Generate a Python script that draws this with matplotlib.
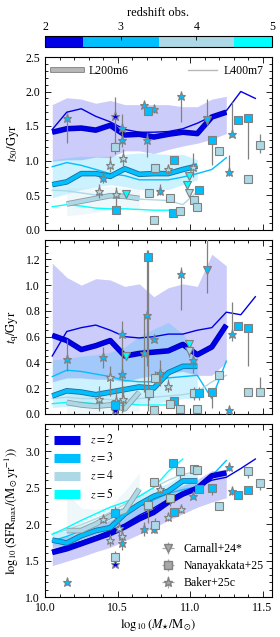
import numpy as np
import matplotlib
matplotlib.use('Agg')
import matplotlib.pyplot as plt
from matplotlib import patheffects as pe
from matplotlib.colors import ListedColormap, BoundaryNorm
from matplotlib.cm import ScalarMappable
from matplotlib.lines import Line2D
from matplotlib.ticker import MultipleLocator

plt.rcParams['font.family'] = ['Liberation Serif', 'DejaVu Serif']
plt.rcParams['mathtext.fontset'] = 'stix'
plt.rcParams['font.size'] = 8.5

# ---------------- data ----------------
redshifts = [2, 3, 4, 5]
z_colors = ['#0000e6', '#00bfff', '#add8e6', '#00ffff']
z_outline = ['#0000b8', '#1a6a9a', '#8c9aa3', '#40a0a0']
cbar_bounds = [2, 2.5, 3.5, 4.5, 5]

m_l200 = [10.05, 10.15, 10.25, 10.35, 10.45, 10.55, 10.65, 10.75, 10.85, 10.95, 11.05, 11.15, 11.25]
m_l400 = [10.05, 10.15, 10.25, 10.35, 10.45, 10.55, 10.65, 10.75, 10.85, 10.95, 11.05, 11.15, 11.25, 11.35, 11.45]

# --- t50 panel ---
t50_l200_z2 = [1.41, 1.46, 1.47, 1.44, 1.51, 1.37, 1.38, 1.34, 1.38, 1.41, 1.39, 1.63, 1.70]
t50_l200_z3 = [0.65, 0.69, 0.81, 0.81, 0.77, 0.88, 0.80, 0.81, 0.81, 0.87, 0.92]
t50_l200_z4 = [0.37, 0.41, 0.45, 0.49, 0.48, 0.45]
t50_l400_z2 = [1.45, 1.70, 1.75, 1.64, 1.56, 1.45, 1.41, 1.41, 1.42, 1.46, 1.54, 1.64, 1.72, 2.00, 1.90]
t50_l400_z3 = [0.91, 0.97, 0.93, 0.87, 0.81, 0.78, 0.72, 0.72, 0.72, 0.76, 0.81, 0.87, 1.04]
t50_l400_z4 = [0.57, 0.56, 0.53, 0.50, 0.48, 0.46, 0.44, 0.43, 0.42, 0.36, 0.55]
t50_l400_z5 = [0.33, 0.36, 0.34, 0.31, 0.30, 0.30, 0.29, 0.28, 0.28]
t50_z2_lo = [0.99, 1.01, 1.01, 1.05, 1.04, 1.14, 1.14, 1.10, 1.16, 1.21, 1.25, 1.31, 1.39]
t50_z2_hi = [1.81, 1.91, 1.89, 1.83, 1.87, 1.81, 1.81, 1.81, 1.81, 1.78, 1.78, 1.89, 1.93]
t50_z3_lo = [0.46, 0.52, 0.58, 0.62, 0.65, 0.62, 0.58, 0.58, 0.58, 0.65, 0.72]
t50_z3_hi = [1.01, 1.04, 1.06, 1.06, 1.06, 1.09, 1.11, 1.10, 1.09, 1.09, 1.01]
t50_z4_lo = [0.20, 0.22, 0.25, 0.28, 0.30, 0.30]
t50_z4_hi = [0.60, 0.60, 0.62, 0.62, 0.60, 0.58]

# --- tq panel ---
tq_l200_z2 = [0.61, 0.57, 0.50, 0.53, 0.57, 0.45, 0.47, 0.48, 0.49, 0.54, 0.46, 0.52, 0.69]
tq_l200_z3 = [0.14, 0.18, 0.17, 0.15, 0.17, 0.19, 0.21, 0.20, 0.32, 0.37, 0.37]
tq_l200_z4 = [0.09, 0.07, 0.06, 0.07, 0.04, 0.17]
tq_l400_z2 = [0.45, 0.64, 0.67, 0.69, 0.65, 0.60, 0.59, 0.60, 0.62, 0.62, 0.65, 0.67, 0.79, 0.77, 0.91]
tq_l400_z3 = [0.29, 0.34, 0.33, 0.31, 0.29, 0.26, 0.25, 0.25, 0.28, 0.29, 0.30, 0.12, 0.41]
tq_l400_z4 = [0.12, 0.13, 0.12, 0.12, 0.11, 0.11, 0.12, 0.13, 0.14, 0.15, 0.17, 0.25, 0.30]
tq_l400_z5 = [0.08, 0.09, 0.09, 0.08, 0.08, 0.08, 0.07, 0.07, 0.07]
tq_z2_lo = [0.25, 0.28, 0.28, 0.27, 0.27, 0.25, 0.28, 0.30, 0.32, 0.33, 0.30, 0.30, 0.40]
tq_z2_hi = [1.17, 1.06, 1.00, 1.05, 1.04, 0.99, 1.01, 0.91, 0.98, 1.01, 0.99, 1.24, 1.15]
tq_z3_lo = [0.05, 0.06, 0.06, 0.06, 0.06, 0.07, 0.08, 0.08, 0.10, 0.12, 0.12]
tq_z3_hi = [0.42, 0.43, 0.45, 0.46, 0.48, 0.52, 0.60, 0.66, 0.71, 0.62, 0.47]
tq_z4_lo = [0.00, 0.00, 0.00, 0.01, 0.01, 0.02]
tq_z4_hi = [0.18, 0.18, 0.17, 0.17, 0.18, 0.25]

# --- SFRmax panel ---
sfr_l200_z2 = [1.61, 1.66, 1.73, 1.80, 1.87, 1.96, 2.07, 2.16, 2.30, 2.41, 2.49, 2.66, 2.70]
sfr_l200_z3 = [1.78, 1.74, 1.84, 1.91, 1.95, 2.14, 2.27, 2.38, 2.45, 2.59, 2.59]
sfr_l200_z4 = [1.91, 1.91, 2.00, 2.11, 2.18, 2.48]
sfr_l400_z2 = [1.64, 1.70, 1.76, 1.83, 1.91, 2.00, 2.12, 2.22, 2.34, 2.44, 2.50, 2.60, 2.64, 2.76, 2.89]
sfr_l400_z3 = [1.77, 1.83, 1.91, 1.99, 2.08, 2.16, 2.25, 2.33, 2.42, 2.47, 2.51, 2.66, 2.87]
sfr_l400_z4 = [1.86, 1.92, 1.99, 2.07, 2.16, 2.27, 2.38, 2.50, 2.60, 2.68, 2.72]
sfr_l400_z5 = [1.86, 1.95, 2.05, 2.14, 2.23, 2.30, 2.38, 2.50, 2.72, 2.89]
sfr_z2_lo = [1.43, 1.49, 1.55, 1.62, 1.68, 1.77, 1.86, 1.95, 2.05, 2.14, 2.23, 2.30, 2.36]
sfr_z2_hi = [1.77, 1.83, 1.89, 1.97, 2.05, 2.14, 2.23, 2.34, 2.45, 2.53, 2.61, 2.73, 2.75]
sfr_z3_lo = [1.70, 1.70, 1.76, 1.83, 1.88, 2.00, 2.12, 2.22, 2.32, 2.40, 2.45]
sfr_z3_hi = [1.90, 1.90, 1.98, 2.05, 2.12, 2.26, 2.38, 2.48, 2.56, 2.68, 2.70]
sfr_z4_lo = [1.75, 1.85, 1.90, 1.98, 2.05, 2.20]
sfr_z4_hi = [2.42, 2.22, 2.20, 2.25, 2.45, 2.70]

# --- observations: mass, redshift, value, err_lo, err_hi ---
baker_t50_m = [10.15, 10.48, 10.53, 10.53, 10.54, 10.45, 10.40, 10.37, 10.49, 10.68, 10.75, 10.70, 10.85, 10.79, 10.94, 11.02, 11.29, 11.27]
baker_t50_z = [3, 2, 3, 3, 4, 4, 3, 4, 4, 3, 3, 3, 4, 3, 3, 4, 3, 3]
baker_t50_v = [1.62, 1.65, 1.47, 1.30, 1.04, 0.94, 0.75, 0.56, 0.52, 1.80, 1.74, 1.30, 0.88, 0.56, 1.94, 0.91, 1.39, 0.83]
baker_t50_lo = [0.36, 0.43, 0.20, 0.10, 0.15, 0.10, 0.08, 0.10, 0.25, 0.05, 0.05, 0.25, 0.08, 0.06, 0.38, 0.15, 0.05, 0.05]
baker_t50_hi = [0.03, 0.27, 0.20, 0.10, 0.12, 0.12, 0.08, 0.10, 0.10, 0.05, 0.05, 0.10, 0.06, 0.10, 0.03, 0.20, 0.46, 0.25]

nana_t50_m = [10.71, 10.48, 10.89, 10.76, 10.72, 10.86, 10.49, 10.75, 10.88, 10.93, 11.03, 11.05, 11.06, 11.15, 11.20, 11.33, 11.40, 11.48, 11.40]
nana_t50_z = [3, 4, 3, 4, 4, 4, 3, 4, 3, 4, 4, 4, 3, 3, 4, 3, 3, 4, 4]
nana_t50_v = [1.72, 1.19, 1.01, 0.89, 0.53, 0.46, 0.28, 0.14, 0.24, 0.27, 0.43, 0.33, 0.57, 1.29, 1.14, 1.58, 1.62, 1.23, 0.73]
nana_t50_lo = [0.03, 0.10, 0.03, 0.05, 0.03, 0.03, 0.03, 0.03, 0.03, 0.03, 0.03, 0.03, 0.03, 0.35, 0.03, 0.03, 0.60, 0.12, 0.03]
nana_t50_hi = [0.03, 0.10, 0.03, 0.05, 0.03, 0.03, 0.03, 0.03, 0.03, 0.03, 0.03, 0.03, 0.03, 0.03, 0.03, 0.03, 0.03, 0.15, 0.03]

carn_t50_m = [10.56, 10.99, 10.98, 10.99, 11.12]
carn_t50_z = [5, 5, 5, 4, 3]
carn_t50_v = [0.51, 0.77, 0.64, 0.53, 1.59]
carn_t50_lo = [0.03, 0.03, 0.03, 0.03, 0.08]
carn_t50_hi = [0.03, 0.03, 0.03, 0.03, 0.30]

baker_tq_m = [10.15, 10.40, 10.53, 10.53, 10.54, 10.45, 10.37, 10.49, 10.68, 10.70, 10.75, 10.79, 10.85, 10.94, 11.02, 11.29, 11.27, 10.48]
baker_tq_z = [3, 3, 3, 3, 4, 4, 4, 4, 3, 3, 3, 3, 4, 3, 3, 3, 3, 2]
baker_tq_v = [0.43, 0.44, 0.62, 0.31, 0.12, 0.29, 0.12, 0.10, 0.47, 0.77, 0.58, 0.32, 0.22, 1.09, 0.42, 0.62, 0.03, 0.03]
baker_tq_lo = [0.10, 0.08, 0.30, 0.30, 0.10, 0.15, 0.10, 0.10, 0.30, 0.40, 0.02, 0.10, 0.05, 0.28, 0.10, 0.05, 0.02, 0.02]
baker_tq_hi = [0.15, 0.08, 0.10, 0.20, 0.10, 0.08, 0.10, 0.10, 0.30, 0.50, 0.02, 0.10, 0.05, 0.05, 0.10, 0.25, 0.02, 0.02]

nana_tq_m = [10.71, 10.76, 10.72, 10.89, 10.86, 11.03, 11.06, 11.15, 11.20, 11.33, 11.40, 11.40, 11.48, 10.48, 10.75, 10.93, 11.05]
nana_tq_z = [3, 4, 4, 3, 4, 4, 3, 3, 4, 3, 3, 4, 4, 3, 4, 4, 4]
nana_tq_v = [1.22, 0.28, 0.16, 0.10, 0.08, 0.16, 0.16, 0.17, 0.30, 0.68, 0.67, 0.17, 0.17, 0.07, 0.03, 0.04, 0.04]
nana_tq_lo = [1.20, 0.05, 0.05, 0.03, 0.03, 0.05, 0.05, 0.12, 0.03, 0.03, 0.30, 0.03, 0.03, 0.03, 0.03, 0.03, 0.03]
nana_tq_hi = [0.05, 0.05, 0.05, 0.03, 0.03, 0.05, 0.05, 0.03, 0.03, 0.03, 0.03, 0.03, 0.12, 0.03, 0.03, 0.03, 0.03]

carn_tq_m = [10.56, 10.99, 10.99, 11.12]
carn_tq_z = [5, 5, 4, 3]
carn_tq_v = [0.45, 0.54, 0.49, 1.12]
carn_tq_lo = [0.03, 0.10, 0.03, 0.18]
carn_tq_hi = [0.03, 0.03, 0.03, 0.30]

baker_sfr_m = [10.15, 10.48, 10.40, 10.45, 10.53, 10.53, 10.51, 10.68, 10.75, 10.70, 10.79, 10.85, 10.94, 11.02, 11.27, 11.29]
baker_sfr_z = [3, 2, 4, 4, 4, 3, 4, 3, 3, 4, 4, 4, 4, 3, 3, 3]
baker_sfr_v = [1.20, 1.45, 2.07, 1.78, 1.84, 1.74, 1.95, 1.93, 1.93, 2.25, 2.48, 2.09, 2.20, 2.39, 2.78, 2.45]
baker_sfr_lo = [0.03, 0.03, 0.05, 0.08, 0.08, 0.10, 0.15, 0.10, 0.05, 0.08, 0.05, 0.05, 0.05, 0.05, 0.05, 0.05]
baker_sfr_hi = [0.03, 0.03, 0.05, 0.08, 0.08, 0.10, 0.10, 0.10, 0.05, 0.08, 0.05, 0.05, 0.05, 0.05, 0.05, 0.05]

nana_sfr_m = [10.48, 10.48, 10.71, 10.76, 10.75, 10.86, 10.89, 10.88, 10.93, 11.03, 11.05, 11.06, 11.15, 11.20, 11.33, 11.40, 11.40, 11.48]
nana_sfr_z = [4, 3, 4, 4, 4, 4, 3, 3, 4, 4, 4, 3, 3, 4, 3, 3, 4, 4]
nana_sfr_v = [1.55, 2.15, 2.26, 1.98, 2.58, 2.35, 2.16, 2.84, 2.72, 2.76, 2.74, 2.48, 2.50, 2.24, 2.40, 2.46, 2.73, 2.56]
nana_sfr_lo = [0.08, 0.12, 0.25, 0.10, 0.05, 0.10, 0.05, 0.03, 0.10, 0.05, 0.05, 0.05, 0.10, 0.03, 0.03, 0.03, 0.10, 0.10]
nana_sfr_hi = [0.08, 0.10, 0.10, 0.10, 0.05, 0.08, 0.05, 0.03, 0.05, 0.05, 0.05, 0.05, 0.03, 0.03, 0.03, 0.03, 0.05, 0.05]

# ---------------- figure ----------------
fig = plt.figure(figsize=(2.80, 6.37), dpi=100)
L, W = 45 / 280, 227 / 280
def fy(top, bot):
    return [L, 1 - bot / 637, W, (bot - top) / 637]

ax1 = fig.add_axes(fy(57, 229.5))
ax2 = fig.add_axes(fy(240, 414))
ax3 = fig.add_axes(fy(424, 597))
cax = fig.add_axes(fy(36, 47))

cmap = ListedColormap(z_colors)
norm = BoundaryNorm(cbar_bounds, cmap.N)
cb = fig.colorbar(ScalarMappable(norm=norm, cmap=cmap), cax=cax, orientation='horizontal',
                  spacing='proportional', ticks=redshifts)
cax.xaxis.set_ticks_position('top')
cax.xaxis.set_label_position('top')
cax.tick_params(direction='in', length=3, width=0.6, labelsize=8.5, pad=2)
cb.set_label('redshift obs.', fontsize=9, labelpad=4)
cb.outline.set_linewidth(0.8)
cax.minorticks_off()

def zcol(z):
    return z_colors[redshifts.index(z)]

def draw_sims(ax, thick, thin, shades):
    for (lo, hi, z) in shades:
        n = len(lo)
        ms = m_l200[:n] if z != 4 else m_l200[1:1 + n]
        ax.fill_between(ms, lo, hi, color=zcol(z), alpha=0.2, lw=0, zorder=1)
    for (vals, z) in thin:
        ax.plot(m_l400[:len(vals)], vals, color=zcol(z), lw=1.0, zorder=2)
    for (vals, z) in thick:
        ms = m_l200[:len(vals)] if z != 4 else m_l200[1:1 + len(vals)]
        i = redshifts.index(z)
        ax.plot(ms, vals, color=zcol(z), lw=2.8, zorder=3, solid_capstyle='butt',
                path_effects=[pe.Stroke(linewidth=4.0, foreground=z_outline[i]), pe.Normal()])

def draw_obs(ax, m, z, v, lo, hi, marker, ms):
    for mi, zi, vi, l, h in zip(m, z, v, lo, hi):
        ax.errorbar(mi, vi, yerr=[[l], [h]], fmt='none', ecolor='gray', elinewidth=0.9, zorder=4)
        ax.plot(mi, vi, marker=marker, ms=ms, mfc=zcol(zi), mec='gray', mew=0.8, ls='none', zorder=5)

draw_sims(ax1,
          [(t50_l200_z2, 2), (t50_l200_z3, 3), (t50_l200_z4, 4)],
          [(t50_l400_z2, 2), (t50_l400_z3, 3), (t50_l400_z4, 4), (t50_l400_z5, 5)],
          [(t50_z2_lo, t50_z2_hi, 2), (t50_z3_lo, t50_z3_hi, 3), (t50_z4_lo, t50_z4_hi, 4)])
draw_obs(ax1, baker_t50_m, baker_t50_z, baker_t50_v, baker_t50_lo, baker_t50_hi, '*', 6.5)
draw_obs(ax1, nana_t50_m, nana_t50_z, nana_t50_v, nana_t50_lo, nana_t50_hi, 's', 5.5)
draw_obs(ax1, carn_t50_m, carn_t50_z, carn_t50_v, carn_t50_lo, carn_t50_hi, 'v', 5.5)

draw_sims(ax2,
          [(tq_l200_z2, 2), (tq_l200_z3, 3), (tq_l200_z4, 4)],
          [(tq_l400_z2, 2), (tq_l400_z3, 3), (tq_l400_z4, 4), (tq_l400_z5, 5)],
          [(tq_z2_lo, tq_z2_hi, 2), (tq_z3_lo, tq_z3_hi, 3), (tq_z4_lo, tq_z4_hi, 4)])
draw_obs(ax2, baker_tq_m, baker_tq_z, baker_tq_v, baker_tq_lo, baker_tq_hi, '*', 6.5)
draw_obs(ax2, nana_tq_m, nana_tq_z, nana_tq_v, nana_tq_lo, nana_tq_hi, 's', 5.5)
draw_obs(ax2, carn_tq_m, carn_tq_z, carn_tq_v, carn_tq_lo, carn_tq_hi, 'v', 5.5)

draw_sims(ax3,
          [(sfr_l200_z2, 2), (sfr_l200_z3, 3), (sfr_l200_z4, 4)],
          [(sfr_l400_z2, 2), (sfr_l400_z3, 3), (sfr_l400_z4, 4), (sfr_l400_z5, 5)],
          [(sfr_z2_lo, sfr_z2_hi, 2), (sfr_z3_lo, sfr_z3_hi, 3), (sfr_z4_lo, sfr_z4_hi, 4)])
draw_obs(ax3, baker_sfr_m, baker_sfr_z, baker_sfr_v, baker_sfr_lo, baker_sfr_hi, '*', 6.5)
draw_obs(ax3, nana_sfr_m, nana_sfr_z, nana_sfr_v, nana_sfr_lo, nana_sfr_hi, 's', 5.5)

# axes styling
for ax in (ax1, ax2, ax3):
    ax.set_xlim(10.0, 11.565)
    ax.xaxis.set_major_locator(MultipleLocator(0.5))
    ax.xaxis.set_minor_locator(MultipleLocator(0.1))
    ax.tick_params(which='both', direction='in', top=True, right=True, labelsize=8.5, width=0.6)
    ax.tick_params(which='major', length=4)
    ax.tick_params(which='minor', length=2)
    for s in ax.spines.values():
        s.set_linewidth(0.8)

ax1.set_ylim(0, 2.5)
ax1.yaxis.set_major_locator(MultipleLocator(0.5))
ax1.yaxis.set_minor_locator(MultipleLocator(0.1))
ax1.set_ylabel(r'$t_{50}/\mathrm{Gyr}$', fontsize=9, labelpad=3)
ax1.tick_params(labelbottom=False)

ax2.set_ylim(0, 1.35)
ax2.yaxis.set_major_locator(MultipleLocator(0.2))
ax2.yaxis.set_minor_locator(MultipleLocator(0.05))
ax2.set_ylabel(r'$t_{\mathrm{q}}/\mathrm{Gyr}$', fontsize=9, labelpad=3)
ax2.tick_params(labelbottom=False)

ax3.set_ylim(1.0, 3.37)
ax3.yaxis.set_major_locator(MultipleLocator(0.5))
ax3.yaxis.set_minor_locator(MultipleLocator(0.1))
ax3.set_ylabel(r'$\log_{10}(\mathrm{SFR}_{\mathrm{max}}/(\mathrm{M}_{\odot}\,\mathrm{yr}^{-1}))$', fontsize=9, labelpad=3)
ax3.set_xlabel(r'$\log_{10}(M_{\star}/\mathrm{M}_{\odot})$', fontsize=9, labelpad=2)

# legends
h_l200 = Line2D([], [], color='#b8b8b8', lw=2.8,
                path_effects=[pe.Stroke(linewidth=4.0, foreground='#707070'), pe.Normal()])
h_l400 = Line2D([], [], color='#b8b8b8', lw=1.0)
leg1 = ax1.legend([h_l200], ['L200m6'], loc='upper left', frameon=False, fontsize=8.5,
                  handlelength=2.4, borderaxespad=0.3, handletextpad=0.6)
ax1.add_artist(leg1)
ax1.legend([h_l400], ['L400m7'], loc='upper right', frameon=False, fontsize=8.5,
           handlelength=2.4, borderaxespad=0.3, handletextpad=0.6)

z_handles = [Line2D([], [], color=c, lw=6.5, solid_capstyle='butt') for c in z_colors]
leg3 = ax3.legend(z_handles, [r'$z=%d$' % z for z in redshifts], loc='upper left', frameon=False,
                  fontsize=8.5, handlelength=2.2, borderaxespad=0.4, handletextpad=0.8, labelspacing=0.4)
ax3.add_artist(leg3)
obs_handles = []
for mk, msz in [('v', 5.5), ('s', 5.5), ('*', 6.5)]:
    h = ax3.errorbar([np.nan], [np.nan], xerr=[1], yerr=[1], fmt=mk, ms=msz, mfc='#a8a8a8', mec='gray',
                     ecolor='#a8a8a8', elinewidth=0.9)
    obs_handles.append(h)
ax3.legend(obs_handles, ['Carnall+24*', 'Nanayakkata+25', 'Baker+25c'], loc='lower right', frameon=False,
           fontsize=8.5, handlelength=1.4, borderaxespad=0.3, handletextpad=0.6, labelspacing=0.4)

fig.savefig('out.png', dpi=100)
